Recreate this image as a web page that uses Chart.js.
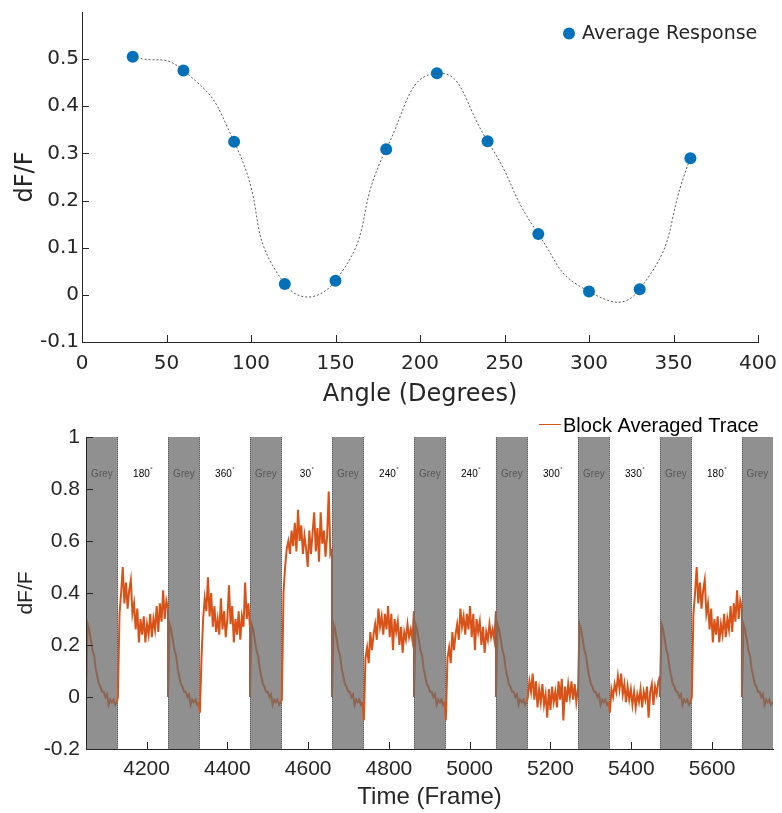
<!DOCTYPE html>
<html lang="en">
<head>
<meta charset="UTF-8">
<title>Orientation response</title>
<style>
  body { margin: 0; background: #fff; }
  .box { position: absolute; left: 0; }
</style>
</head>
<body>
<div class="box" style="top:0; width:782px; height:410px;"><canvas id="tuning" width="782" height="410"></canvas></div>
<div class="box" style="top:410px; width:782px; height:403px;"><canvas id="trace" width="782" height="403"></canvas></div>
<script src="https://cdn.jsdelivr.net/npm/chart.js"></script>
<script>
// ---- top panel: tuning curve
const angles = [30, 60, 90, 120, 150, 180, 210, 240, 270, 300, 330, 360];
const avgResponse = [0.505, 0.476, 0.325, 0.023, 0.030, 0.309, 0.470, 0.326, 0.129, 0.007, 0.012, 0.290];
const angleTicks = [0, 50, 100, 150, 200, 250, 300, 350, 400];
const responseTicks = [-0.1, 0, 0.1, 0.2, 0.3, 0.4, 0.5];

// ---- bottom panel: block averaged trace
const frameTicks = [4200, 4400, 4600, 4800, 5000, 5200, 5400, 5600];
const traceTicks = [-0.2, 0, 0.2, 0.4, 0.6, 0.8, 1];
const greyStarts = [4050, 4253, 4456, 4659, 4862, 5065, 5268, 5471, 5674];
const greyEnds = [4129, 4332, 4535, 4738, 4941, 5144, 5347, 5550, 5753];
const blockAngles = ["180", "360", "30", "240", "240", "300", "330", "180"];
const sampleStep = 4; // frames between samples

const traceGrey = [0.0, 0.28, 0.26, 0.22, 0.18, 0.16, 0.11, 0.08, 0.05, 0.04, 0.02, 0.02, 0.0, 0.01, -0.03, -0.01, -0.02, -0.01, -0.03, -0.02];
const trace180 = [0.0, 0.32, 0.40, 0.50, 0.36, 0.44, 0.34, 0.41, 0.45, 0.32, 0.36, 0.26, 0.34, 0.21, 0.30, 0.24, 0.31, 0.21, 0.28, 0.24, 0.32, 0.23, 0.30, 0.26, 0.35, 0.25, 0.36, 0.29, 0.41, 0.30, 0.37, 0.34];
const trace360 = [-0.06, 0.15, 0.30, 0.38, 0.33, 0.46, 0.31, 0.40, 0.27, 0.35, 0.25, 0.30, 0.24, 0.38, 0.26, 0.33, 0.23, 0.30, 0.43, 0.28, 0.35, 0.21, 0.30, 0.24, 0.33, 0.22, 0.31, 0.27, 0.44, 0.30, 0.36, 0.27];
const trace30 = [-0.01, 0.40, 0.50, 0.57, 0.60, 0.55, 0.64, 0.58, 0.67, 0.56, 0.72, 0.60, 0.66, 0.55, 0.62, 0.57, 0.50, 0.64, 0.55, 0.63, 0.71, 0.56, 0.65, 0.52, 0.71, 0.59, 0.64, 0.54, 0.62, 0.79, 0.55, 0.57];
const trace240 = [-0.09, 0.15, 0.19, 0.13, 0.25, 0.18, 0.24, 0.28, 0.22, 0.34, 0.27, 0.31, 0.24, 0.32, 0.26, 0.35, 0.23, 0.32, 0.18, 0.30, 0.25, 0.29, 0.20, 0.27, 0.17, 0.25, 0.22, 0.28, 0.23, 0.26, 0.22, 0.33];
const trace300 = [0.0, 0.06, 0.02, 0.09, -0.01, 0.06, -0.04, 0.03, -0.02, 0.05, -0.03, 0.01, -0.08, 0.03, -0.05, 0.04, -0.02, 0.02, -0.04, 0.06, -0.01, 0.07, -0.09, 0.04, -0.02, 0.05, 0.0, 0.06, -0.01, 0.05, -0.02, 0.03];
const trace330 = [-0.06, 0.03, 0.0, 0.05, 0.02, 0.08, 0.03, 0.09, 0.01, 0.05, -0.02, 0.04, -0.01, 0.03, -0.03, 0.02, -0.04, 0.01, -0.02, 0.03, -0.04, 0.02, -0.01, 0.04, -0.08, 0.02, 0.05, -0.03, 0.04, 0.01, 0.06, 0.08];

const stimTraces = { "180": trace180, "360": trace360, "30": trace30, "240": trace240, "300": trace300, "330": trace330 };

const INK = "#262626";
const ORANGE = "#D95319";
const BLUE = "#0072BD";
const fontTop = "'DejaVu Sans', sans-serif";
const fontBot = "'Liberation Sans', Arial, sans-serif";

Chart.defaults.animation = false;
Chart.defaults.color = INK;

function fmt(v) { return String(Number(v.toFixed(2))); }

// inward tick marks + axis lines (MATLAB style)
const axisPlugin = {
    id: "axisTicks",
    afterDatasetsDraw(chart) {
        const { ctx, chartArea: a, scales } = chart;
        ctx.save();
        ctx.strokeStyle = INK;
        ctx.lineWidth = 1;
        ctx.beginPath();
        scales.x.ticks.forEach(t => {
            const px = Math.round(scales.x.getPixelForValue(t.value)) + 0.5;
            ctx.moveTo(px, a.bottom);
            ctx.lineTo(px, a.bottom - 7);
        });
        scales.y.ticks.forEach(t => {
            const py = Math.round(scales.y.getPixelForValue(t.value)) + 0.5;
            ctx.moveTo(a.left, py);
            ctx.lineTo(a.left + 7, py);
        });
        ctx.moveTo(a.left + 0.5, a.top);
        ctx.lineTo(a.left + 0.5, a.bottom + 0.5);
        ctx.lineTo(a.right, a.bottom + 0.5);
        ctx.stroke();
        ctx.restore();
    }
};

// ---------------- top chart
const curveData = angles.map((a, i) => ({ x: a, y: avgResponse[i] }));

new Chart(document.getElementById("tuning"), {
    type: "scatter",
    data: {
        datasets: [
            {
                label: "fit",
                data: curveData,
                showLine: true,
                borderColor: "#5a5a5a",
                borderWidth: 1,
                borderDash: [2, 2],
                tension: 0.55,
                pointRadius: 0,
                order: 0
            },
            {
                label: "Average Response",
                data: curveData,
                backgroundColor: BLUE,
                borderColor: BLUE,
                borderWidth: 0,
                pointRadius: 6,
                order: 1
            }
        ]
    },
    options: {
        responsive: false,
        layout: { padding: { left: 0, right: 24, top: 12, bottom: 0 } },
        plugins: { legend: { display: false }, tooltip: { enabled: false } },
        scales: {
            x: {
                type: "linear", min: 0, max: 400,
                afterBuildTicks: s => { s.ticks = angleTicks.map(v => ({ value: v })); },
                afterFit: s => { s.height = 68; s.paddingLeft = 0; s.paddingRight = 0; },
                grid: { drawOnChartArea: false, drawTicks: false },
                border: { display: true, color: INK, width: 1 },
                ticks: { padding: 10, maxRotation: 0, autoSkip: false, color: INK, font: { family: fontTop, size: 20 }, callback: v => String(v) },
                title: { display: true, text: "Angle (Degrees)", color: INK, font: { family: fontTop, size: 24 }, padding: { top: 0, bottom: 1 } }
            },
            y: {
                min: -0.1, max: 0.6,
                afterBuildTicks: s => { s.ticks = responseTicks.map(v => ({ value: v })); },
                afterFit: s => { s.width = 82; s.paddingTop = 0; s.paddingBottom = 0; },
                grid: { drawOnChartArea: false, drawTicks: false },
                border: { display: true, color: INK, width: 1 },
                ticks: { padding: 3, color: INK, font: { family: fontTop, size: 20 }, callback: v => fmt(v) },
                title: { display: true, text: "dF/F", color: INK, font: { family: fontTop, size: 24 }, padding: { top: 11, bottom: 0 } }
            }
        }
    },
    plugins: [axisPlugin, {
        id: "topLegend",
        afterDraw(chart) {
            const ctx = chart.ctx;
            ctx.save();
            ctx.fillStyle = BLUE;
            ctx.beginPath();
            ctx.arc(569, 33.5, 6, 0, Math.PI * 2);
            ctx.fill();
            ctx.fillStyle = INK;
            ctx.font = "19px " + fontTop;
            ctx.textBaseline = "middle";
            ctx.fillText("Average Response", 582, 34);
            ctx.restore();
        }
    }]
});

// ---------------- bottom chart
const tracePoints = [];
greyStarts.forEach((gs, k) => {
    traceGrey.forEach((v, i) => tracePoints.push({ x: gs + i * sampleStep, y: v }));
    if (k < blockAngles.length) {
        stimTraces[blockAngles[k]].forEach((v, i) => tracePoints.push({ x: greyEnds[k] + i * sampleStep, y: v }));
    }
});

function inGrey(x0, x1) {
    for (let k = 0; k < greyStarts.length; k++) {
        if (x0 >= greyStarts[k] && x1 < greyEnds[k]) return true;
    }
    return false;
}

new Chart(document.getElementById("trace"), {
    type: "line",
    data: {
        datasets: [{
            label: "Block Averaged Trace",
            data: tracePoints,
            borderColor: ORANGE,
            borderWidth: 2,
            pointRadius: 0,
            tension: 0,
            segment: {
                borderColor: c => inGrey(c.p0.parsed.x, c.p1.parsed.x) ? "#8d6553" : ORANGE
            }
        }]
    },
    options: {
        responsive: false,
        layout: { padding: { left: 0, right: 9, top: 27, bottom: 0 } },
        plugins: { legend: { display: false }, tooltip: { enabled: false } },
        scales: {
            x: {
                type: "linear", min: 4050, max: 5751,
                afterBuildTicks: s => { s.ticks = frameTicks.map(v => ({ value: v })); },
                afterFit: s => { s.height = 64; s.paddingLeft = 0; s.paddingRight = 0; },
                grid: { drawOnChartArea: false, drawTicks: false },
                border: { display: true, color: INK, width: 1 },
                ticks: { padding: 8, maxRotation: 0, autoSkip: false, color: INK, font: { family: fontBot, size: 21 }, callback: v => String(v) },
                title: { display: true, text: "Time (Frame)", color: INK, font: { family: fontBot, size: 24 }, padding: { top: 0, bottom: 1 } }
            },
            y: {
                min: -0.2, max: 1,
                afterBuildTicks: s => { s.ticks = traceTicks.map(v => ({ value: v })); },
                afterFit: s => { s.width = 86; s.paddingTop = 0; s.paddingBottom = 0; },
                grid: { drawOnChartArea: false, drawTicks: false },
                border: { display: true, color: INK, width: 1 },
                ticks: { padding: 6, color: INK, font: { family: fontBot, size: 21 }, callback: v => fmt(v) },
                title: { display: true, text: "dF/F", color: INK, font: { family: fontBot, size: 21 }, padding: { top: 14, bottom: 0 } }
            }
        }
    },
    plugins: [{
        id: "greyBlocks",
        beforeDatasetsDraw(chart) {
            const { ctx, chartArea: a, scales: { x } } = chart;
            ctx.save();
            ctx.beginPath();
            ctx.rect(a.left, a.top, a.right - a.left, a.bottom - a.top);
            ctx.clip();
            greyStarts.forEach((gs, k) => {
                const x0 = x.getPixelForValue(gs);
                const x1 = x.getPixelForValue(greyEnds[k]);
                ctx.fillStyle = "#909090";
                ctx.fillRect(x0, a.top, x1 - x0, a.bottom - a.top);
                ctx.strokeStyle = "#5e5e5e";
                ctx.lineWidth = 1;
                ctx.setLineDash([1, 1]);
                ctx.beginPath();
                ctx.moveTo(Math.round(x0) + 0.5, a.top);
                ctx.lineTo(Math.round(x0) + 0.5, a.bottom);
                ctx.moveTo(Math.round(x1) - 0.5, a.top);
                ctx.lineTo(Math.round(x1) - 0.5, a.bottom);
                ctx.stroke();
            });
            ctx.restore();
        },
        afterDatasetsDraw(chart) {
            const { ctx, chartArea: a, scales: { x } } = chart;
            const ly = a.top + 37;
            ctx.save();
            ctx.textBaseline = "middle";
            ctx.textAlign = "center";
            greyStarts.forEach((gs, k) => {
                const x0 = x.getPixelForValue(gs);
                const x1 = x.getPixelForValue(Math.min(greyEnds[k], x.max));
                ctx.font = "10px " + fontBot;
                ctx.fillStyle = "#575757";
                ctx.fillText("Grey", (x0 + x1) / 2, ly);
                if (k < blockAngles.length) {
                    const sx = (x.getPixelForValue(greyEnds[k]) + x.getPixelForValue(greyStarts[k + 1])) / 2;
                    const txt = blockAngles[k];
                    const w = ctx.measureText(txt).width;
                    ctx.fillStyle = "#000";
                    ctx.textAlign = "left";
                    ctx.fillText(txt, sx - (w + 3) / 2, ly);
                    ctx.font = "6px " + fontBot;
                    ctx.fillText("\u00B0", sx - (w + 3) / 2 + w + 0.5, ly - 5);
                    ctx.textAlign = "center";
                }
            });
            // legend
            ctx.strokeStyle = ORANGE;
            ctx.lineWidth = 1;
            ctx.beginPath();
            ctx.moveTo(539, 14.5);
            ctx.lineTo(561, 14.5);
            ctx.stroke();
            ctx.fillStyle = "#000";
            ctx.textAlign = "left";
            ctx.font = "20px " + fontBot;
            ctx.fillText("Block Averaged Trace", 563, 16);
            ctx.restore();
        }
    }, axisPlugin]
});
</script>
</body>
</html>
